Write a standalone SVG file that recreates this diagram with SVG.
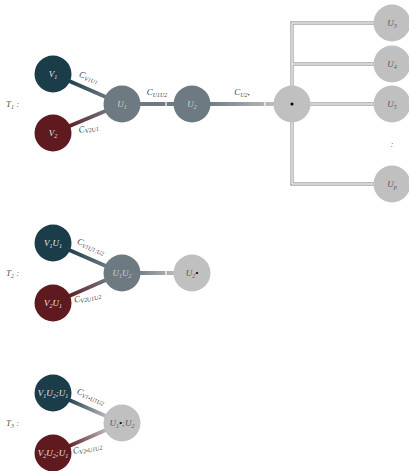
<svg xmlns="http://www.w3.org/2000/svg" width="409" height="471" viewBox="0 0 409 471">
<style>
text{font-family:"Liberation Serif","DejaVu Serif",serif;font-style:italic;font-size:9px}
.lbl{fill:#444;text-anchor:middle}
.nd{text-anchor:middle}
.w{fill:#e6e6e6}
.g{fill:#d0d4d6}
.d{fill:#555}
.s{font-size:6px}
.teal{fill:#1b3d4a}
.red{fill:#5f1a1f}
.grey{fill:#6e7a82}
.lg{fill:#c0c0c0}
.edge{stroke-width:4;fill:none}
.tick{stroke:#fff;stroke-width:1.2}
.dbl{stroke:#a8a8a8;stroke-width:3.4;fill:none}
.dbli{stroke:#fff;stroke-width:1;fill:none}
</style>
<defs>
<linearGradient id="g1" gradientUnits="userSpaceOnUse" x1="53" y1="74" x2="122" y2="104"><stop offset="0.2" stop-color="#1b3d4a"/><stop offset="0.8" stop-color="#6e7a82"/></linearGradient>
<linearGradient id="g2" gradientUnits="userSpaceOnUse" x1="53" y1="133" x2="122" y2="104"><stop offset="0.2" stop-color="#5f1a1f"/><stop offset="0.8" stop-color="#6e7a82"/></linearGradient>
<linearGradient id="g3" gradientUnits="userSpaceOnUse" x1="192" y1="0" x2="292" y2="0"><stop offset="0.15" stop-color="#6e7a82"/><stop offset="0.85" stop-color="#c0c0c0"/></linearGradient>
<linearGradient id="g4" gradientUnits="userSpaceOnUse" x1="53" y1="243" x2="122" y2="273"><stop offset="0.2" stop-color="#1b3d4a"/><stop offset="0.8" stop-color="#6e7a82"/></linearGradient>
<linearGradient id="g5" gradientUnits="userSpaceOnUse" x1="53" y1="303" x2="122" y2="273"><stop offset="0.2" stop-color="#5f1a1f"/><stop offset="0.8" stop-color="#6e7a82"/></linearGradient>
<linearGradient id="g6" gradientUnits="userSpaceOnUse" x1="122" y1="0" x2="192" y2="0"><stop offset="0.2" stop-color="#6e7a82"/><stop offset="0.8" stop-color="#c0c0c0"/></linearGradient>
<linearGradient id="g7" gradientUnits="userSpaceOnUse" x1="53" y1="393" x2="122" y2="423"><stop offset="0.2" stop-color="#1b3d4a"/><stop offset="0.8" stop-color="#c0c0c0"/></linearGradient>
<linearGradient id="g8" gradientUnits="userSpaceOnUse" x1="53" y1="453" x2="122" y2="423"><stop offset="0.2" stop-color="#5f1a1f"/><stop offset="0.8" stop-color="#c0c0c0"/></linearGradient>
</defs>
<rect width="409" height="471" fill="#fff"/>

<g id="connectors">
<line class="edge" x1="60" y1="77" x2="115" y2="101" stroke="url(#g1)"/>
<line class="edge" x1="60" y1="130" x2="115" y2="107" stroke="url(#g2)"/>
<line class="edge" x1="130" y1="104" x2="185" y2="104" stroke="#6e7a82" stroke-width="3"/>
<line class="tick" x1="166" y1="101" x2="166" y2="107"/>
<line class="edge" x1="200" y1="104" x2="285" y2="104" stroke="url(#g3)" stroke-width="3"/>
<line class="tick" x1="265" y1="101" x2="265" y2="107"/>
<path class="dbl" d="M374 23 H292 V184 H374 M292 64 H374 M292 104 H374"/>
<path class="dbli" d="M374 23 H292 V184 H374 M292 64 H374 M292 104 H374"/>
<line class="edge" x1="60" y1="246" x2="115" y2="270" stroke="url(#g4)"/>
<line class="edge" x1="60" y1="300" x2="115" y2="276" stroke="url(#g5)"/>
<line class="edge" x1="130" y1="273" x2="185" y2="273" stroke="url(#g6)" stroke-width="3"/>
<line class="tick" x1="166" y1="270" x2="166" y2="276"/>
<line class="edge" x1="60" y1="396" x2="115" y2="420" stroke="url(#g7)"/>
<line class="edge" x1="60" y1="450" x2="115" y2="426" stroke="url(#g8)"/>
</g>

<g id="edge-labels" class="lbl">
<text transform="translate(88,80) rotate(20)">C<tspan class="s" dy="1.5">V1U1</tspan></text>
<text transform="translate(89,131) rotate(-12)">C<tspan class="s" dy="1.5">V2U1</tspan></text>
<text x="157" y="95">C<tspan class="s" dy="1.5">U1U2</tspan></text>
<text x="242" y="95">C<tspan class="s" dy="1.5">U2•</tspan></text>
<text transform="translate(90,249) rotate(22)">C<tspan class="s" dy="1.5">V1U1;U2</tspan></text>
<text transform="translate(88,300) rotate(-12)">C<tspan class="s" dy="1.5">V2U1U2</tspan></text>
<text transform="translate(90,399) rotate(22)">C<tspan class="s" dy="1.5">V1•U1U2</tspan></text>
<text transform="translate(88,451) rotate(-12)">C<tspan class="s" dy="1.5">V2•U1U2</tspan></text>
</g>

<g id="row-labels" class="d">
<text x="6" y="107">T<tspan class="s" dy="1.5">1</tspan><tspan dy="-1.5"> :</tspan></text>
<text x="6" y="276">T<tspan class="s" dy="1.5">2</tspan><tspan dy="-1.5"> :</tspan></text>
<text x="6" y="426">T<tspan class="s" dy="1.5">3</tspan><tspan dy="-1.5"> :</tspan></text>
</g>

<g id="T1-V1"><circle class="teal" cx="53" cy="74" r="18.5"/><text class="nd w" x="53" y="77">V<tspan class="s" dy="1.5">1</tspan></text></g>
<g id="T1-V2"><circle class="red" cx="53" cy="133" r="18.5"/><text class="nd w" x="53" y="136">V<tspan class="s" dy="1.5">2</tspan></text></g>
<g id="T1-U1"><circle class="grey" cx="122" cy="104" r="18.5"/><text class="nd g" x="122" y="107">U<tspan class="s" dy="1.5">1</tspan></text></g>
<g id="T1-U2"><circle class="grey" cx="192" cy="104" r="18.5"/><text class="nd g" x="192" y="107">U<tspan class="s" dy="1.5">2</tspan></text></g>
<g id="T1-dot"><circle class="lg" cx="292" cy="104" r="18.5"/><circle cx="292" cy="104" r="1.5" fill="#000"/></g>
<g id="T1-U3"><circle class="lg" cx="392" cy="23" r="18.5"/><text class="nd d" x="392" y="26">U<tspan class="s" dy="1.5">3</tspan></text></g>
<g id="T1-U4"><circle class="lg" cx="392" cy="64" r="18.5"/><text class="nd d" x="392" y="67">U<tspan class="s" dy="1.5">4</tspan></text></g>
<g id="T1-U5"><circle class="lg" cx="392" cy="104" r="18.5"/><text class="nd d" x="392" y="107">U<tspan class="s" dy="1.5">5</tspan></text></g>
<g id="T1-dots"><text class="nd d" x="392" y="147">:</text></g>
<g id="T1-Up"><circle class="lg" cx="392" cy="184" r="18.5"/><text class="nd d" x="392" y="187">U<tspan class="s" dy="1.5">p</tspan></text></g>

<g id="T2-V1U1"><circle class="teal" cx="53" cy="243" r="18.5"/><text class="nd w" x="53" y="246">V<tspan class="s" dy="1.5">1</tspan><tspan dy="-1.5">U</tspan><tspan class="s" dy="1.5">1</tspan></text></g>
<g id="T2-V2U1"><circle class="red" cx="53" cy="303" r="18.5"/><text class="nd w" x="53" y="306">V<tspan class="s" dy="1.5">2</tspan><tspan dy="-1.5">U</tspan><tspan class="s" dy="1.5">1</tspan></text></g>
<g id="T2-U1U2"><circle class="grey" cx="122" cy="273" r="18.5"/><text class="nd g" x="122" y="276">U<tspan class="s" dy="1.5">1</tspan><tspan dy="-1.5">U</tspan><tspan class="s" dy="1.5">2</tspan></text></g>
<g id="T2-U2dot"><circle class="lg" cx="192" cy="273" r="18.5"/><text class="nd d" x="192" y="276">U<tspan class="s" dy="1.5">2</tspan><tspan dy="-1.5" fill="#000">•</tspan></text></g>

<g id="T3-V1U2U1"><circle class="teal" cx="53" cy="393" r="18.5"/><text class="nd w" x="53" y="396">V<tspan class="s" dy="1.5">1</tspan><tspan dy="-1.5">U</tspan><tspan class="s" dy="1.5">2</tspan><tspan dy="-1.5">;U</tspan><tspan class="s" dy="1.5">1</tspan></text></g>
<g id="T3-V2U2U1"><circle class="red" cx="53" cy="453" r="18.5"/><text class="nd w" x="53" y="456">V<tspan class="s" dy="1.5">2</tspan><tspan dy="-1.5">U</tspan><tspan class="s" dy="1.5">2</tspan><tspan dy="-1.5">;U</tspan><tspan class="s" dy="1.5">1</tspan></text></g>
<g id="T3-U1dotU2"><circle class="lg" cx="122" cy="423" r="18.5"/><text class="nd d" x="122" y="426">U<tspan class="s" dy="1.5">1</tspan><tspan dy="-1.5" fill="#000">•</tspan><tspan>;U</tspan><tspan class="s" dy="1.5">2</tspan></text></g>
</svg>
